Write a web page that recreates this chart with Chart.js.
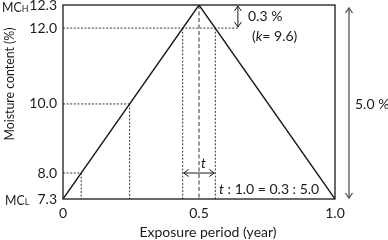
<!DOCTYPE html>
<html>
<head>
<meta charset="utf-8">
<script src="https://cdn.jsdelivr.net/npm/chart.js@4"></script>
<style>
  html, body { margin: 0; padding: 0; background: #fff; }
  #wrap { width: 388px; height: 240px; }
</style>
</head>
<body>
<div id="wrap"><canvas id="chart" width="388" height="240"></canvas></div>
<script>
// datos del esquema
const periods = [0, 0.5, 1.0];
const moisture = [7.3, 12.3, 7.3];
const yTicks = [7.3, 8.0, 10.0, 12.0, 12.3];
const xTicks = [0, 0.5, 1.0];
const xTickLabels = ['0', '0.5', '1.0'];
const guideLevels = [8.0, 10.0, 12.0];
const riseCross = [0.067, 0.245, 0.44];   // donde la recta sube a cada nivel
const fallCross = 0.56;                   // bajada a 12.0
const arrowX = 0.643;                     // flecha de 0.3 %

const FONT = 'Lato, "Liberation Sans", sans-serif';
const INK = '#1a1a1a';

// escala lineal por tramos (el dibujo original no es proporcional)
class PiecewiseScale extends Chart.LinearScale {
  static id = 'piecewise';
  static defaults = Chart.LinearScale.defaults;
  getPixelForValue(v) {
    const b = this.options.breaks, f = this.options.stops;
    let d = f[0];
    if (v >= b[b.length - 1]) d = f[f.length - 1];
    else if (v > b[0]) {
      for (let i = 0; i < b.length - 1; i++) {
        if (v <= b[i + 1]) {
          d = f[i] + (v - b[i]) / (b[i + 1] - b[i]) * (f[i + 1] - f[i]);
          break;
        }
      }
    }
    return this.getPixelForDecimal(d);
  }
  getValueForPixel(p) {
    const b = this.options.breaks, f = this.options.stops;
    const d = this.getDecimalForPixel(p);
    for (let i = 0; i < f.length - 1; i++) {
      if (d <= f[i + 1]) return b[i] + (d - f[i]) / (f[i + 1] - f[i]) * (b[i + 1] - b[i]);
    }
    return b[b.length - 1];
  }
}
Chart.register(PiecewiseScale);

function dashed(points, dash) {
  return {
    data: points.map(p => ({ x: p[0], y: p[1] })),
    showLine: true,
    borderColor: '#333',
    borderWidth: 1,
    borderDash: dash || [2, 1.6],
    pointRadius: 0
  };
}

const datasets = [{
  data: periods.map((p, i) => ({ x: p, y: moisture[i] })),
  showLine: true,
  borderColor: INK,
  borderWidth: 1.4,
  pointRadius: 0
}];
guideLevels.forEach((lvl, i) => {
  const endX = i === guideLevels.length - 1 ? arrowX : riseCross[i];
  datasets.push(dashed([[0, lvl], [endX, lvl]]));
  datasets.push(dashed([[riseCross[i], lvl], [riseCross[i], moisture[0]]]));
});
datasets.push(dashed([[fallCross, guideLevels[2]], [fallCross, moisture[0]]]));
datasets.push(dashed([[periods[1], moisture[1]], [periods[1], moisture[0]]], [4, 2.5]));

function arrowHead(ctx, x, y, dx, dy) {
  const s = 5;
  ctx.beginPath();
  ctx.moveTo(x - dx * s + dy * s * 0.7, y - dy * s + dx * s * 0.7);
  ctx.lineTo(x, y);
  ctx.lineTo(x - dx * s - dy * s * 0.7, y - dy * s - dx * s * 0.7);
  ctx.stroke();
}

function runs(ctx, x, y, parts) {
  parts.forEach(p => {
    ctx.font = (p.italic ? 'italic ' : '') + (p.size || 14) + 'px ' + FONT;
    ctx.fillText(p.t, x, y + (p.dy || 0));
    x += ctx.measureText(p.t).width;
  });
}

const extras = {
  id: 'extras',
  afterDraw(chart) {
    const { ctx, chartArea: a, scales: { x, y } } = chart;
    ctx.save();
    ctx.strokeStyle = INK;
    ctx.lineWidth = 1.3;
    ctx.strokeRect(a.left, a.top, a.right - a.left, a.bottom - a.top);

    ctx.fillStyle = INK;
    ctx.textBaseline = 'middle';
    ctx.textAlign = 'left';

    // MC_H / MC_L (un poco estrechos, como en el original)
    ctx.save();
    ctx.translate(2, y.getPixelForValue(12.3) + 2);
    ctx.scale(0.88, 1);
    runs(ctx, 0, 0, [{ t: 'MC' }, { t: 'H', size: 10, dy: 1.5 }]);
    ctx.restore();
    ctx.save();
    ctx.translate(5, y.getPixelForValue(7.3) + 1);
    ctx.scale(0.88, 1);
    runs(ctx, 0, 0, [{ t: 'MC' }, { t: 'L', size: 10, dy: 1.5 }]);
    ctx.restore();

    // flecha 0.3 %
    ctx.lineWidth = 1;
    const ax = x.getPixelForValue(arrowX);
    const y1 = y.getPixelForValue(12.3), y2 = y.getPixelForValue(12.0);
    ctx.beginPath(); ctx.moveTo(ax, y1 + 1); ctx.lineTo(ax, y2 - 1); ctx.stroke();
    arrowHead(ctx, ax, y1 + 1, 0, -1);
    arrowHead(ctx, ax, y2 - 1, 0, 1);
    runs(ctx, 248, 16, [{ t: '0.3 %' }]);
    runs(ctx, 252, 36, [{ t: '(' }, { t: 'k', italic: true }, { t: '= 9.6)' }]);

    // flecha t
    const tx1 = x.getPixelForValue(riseCross[2]), tx2 = x.getPixelForValue(fallCross);
    const ty = y.getPixelForValue(8.0);
    ctx.beginPath(); ctx.moveTo(tx1 + 1, ty); ctx.lineTo(tx2 - 1, ty); ctx.stroke();
    arrowHead(ctx, tx1 + 1, ty, -1, 0);
    arrowHead(ctx, tx2 - 1, ty, 1, 0);
    runs(ctx, 201, 163, [{ t: 't', italic: true }]);
    runs(ctx, 219, 189, [{ t: 't', italic: true }, { t: ' : 1.0 = 0.3 : 5.0' }]);

    // flecha 5.0 %
    ctx.strokeStyle = '#555';
    ctx.lineWidth = 1.3;
    ctx.beginPath(); ctx.moveTo(349, 8); ctx.lineTo(349, 198); ctx.stroke();
    arrowHead(ctx, 349, 8, 0, -1);
    arrowHead(ctx, 349, 198, 0, 1);
    runs(ctx, 355, 104, [{ t: '5.0 %' }]);

    // títulos de ejes
    ctx.font = '14px ' + FONT;
    ctx.textAlign = 'center';
    ctx.fillText('Exposure period (year)', 208, 232);
    ctx.translate(9, 84);
    ctx.rotate(-Math.PI / 2);
    ctx.scale(0.88, 1);
    ctx.fillText('Moisture content (%)', 0, 0);
    ctx.restore();
  }
};

new Chart(document.getElementById('chart'), {
  type: 'scatter',
  data: { datasets },
  options: {
    responsive: false,
    animation: false,
    layout: { padding: { top: 5, right: 53, left: 0, bottom: 0 } },
    plugins: { legend: { display: false }, tooltip: { enabled: false } },
    scales: {
      x: {
        type: 'linear',
        min: 0, max: 1,
        grid: { display: false, drawTicks: false },
        border: { display: false },
        afterBuildTicks: s => { s.ticks = xTicks.map(v => ({ value: v })); },
        afterFit: s => { s.height = 41; s.paddingLeft = 0; s.paddingRight = 0; },
        ticks: {
          padding: 6,
          color: INK,
          font: { family: FONT, size: 14 },
          maxRotation: 0,
          callback: (v) => xTickLabels[xTicks.indexOf(v)]
        }
      },
      y: {
        type: 'piecewise',
        min: 7.3, max: 12.3,
        breaks: yTicks,
        stops: [0, 0.134, 0.49, 0.881, 1],
        grid: { display: false, drawTicks: false },
        border: { display: false },
        afterBuildTicks: s => { s.ticks = yTicks.map(v => ({ value: v })); },
        afterFit: s => { s.width = 63; s.paddingTop = 0; s.paddingBottom = 0; },
        ticks: {
          padding: 6,
          color: INK,
          font: { family: FONT, size: 14 },
          callback: v => v.toFixed(1)
        }
      }
    }
  },
  plugins: [extras]
});
</script>
</body>
</html>
